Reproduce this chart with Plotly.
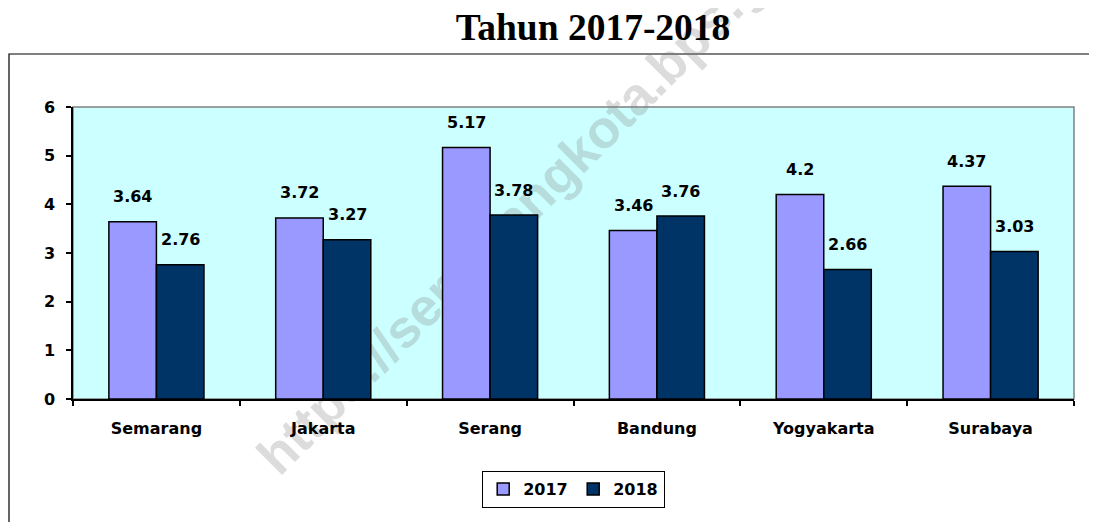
import plotly.graph_objects as go

categories = ["Semarang", "Jakarta", "Serang", "Bandung", "Yogyakarta", "Surabaya"]
values_2017 = [3.64, 3.72, 5.17, 3.46, 4.2, 4.37]
values_2018 = [2.76, 3.27, 3.78, 3.76, 2.66, 3.03]
series_names = ["2017", "2018"]
y_ticks = [0, 1, 2, 3, 4, 5, 6]
title_text = "Tahun 2017-2018"
watermark_text = "https://semarangkota.bps.go.id"

# page body has an 8px margin; lay out in reference pixels minus that offset
OFF = 8
W, H = 1097 - OFF, 522 - OFF
L, T = 73 - OFF, 107 - OFF
PR, PB = 1074 - OFF, 399 - OFF
R, B = W - PR, H - PB
PW = PR - L
PH = PB - T

LBL_FONT = dict(family="DejaVu Sans", size=16, color="black", weight="bold")

fig = go.Figure()
fig.add_trace(go.Bar(x=categories, y=values_2017, name=series_names[0],
                     marker=dict(color="#9999FF", line=dict(color="black", width=1.5))))
fig.add_trace(go.Bar(x=categories, y=values_2018, name=series_names[1],
                     marker=dict(color="#003366", line=dict(color="black", width=1.5))))

bargap = 0.43
bar_px = PW / len(categories) * (1 - bargap) / 2

annotations = []
for vals, sh in ((values_2017, -bar_px / 2), (values_2018, bar_px / 2)):
    for c, v in zip(categories, vals):
        annotations.append(dict(x=c, y=v, xref="x", yref="y", text=f"{v:g}", showarrow=False,
                                xshift=sh, yshift=25, yanchor="middle", font=LBL_FONT))

def px_to_paper_x(px):  # px in reference coordinates
    return (px - OFF - L) / PW

def px_to_paper_y(py):
    return (PB - (py - OFF)) / PH

wm_cx, wm_cy = 541, 183
shapes = [
    dict(type="rect", xref="paper", yref="paper",
         x0=px_to_paper_x(9), x1=px_to_paper_x(1120), y0=px_to_paper_y(540), y1=px_to_paper_y(54),
         line=dict(color="black", width=1.2), fillcolor="rgba(0,0,0,0)", layer="below"),
    dict(type="rect", xref="paper", yref="paper", x0=0, x1=1, y0=0, y1=1,
         line=dict(color="#808080", width=1.5), fillcolor="rgba(0,0,0,0)", layer="below"),
    dict(type="rect", xref="paper", yref="paper",
         x0=px_to_paper_x(wm_cx - 10), x1=px_to_paper_x(wm_cx + 10),
         y0=px_to_paper_y(wm_cy + 10), y1=px_to_paper_y(wm_cy - 10),
         line=dict(width=0), fillcolor="rgba(0,0,0,0)", layer="below",
         label=dict(text=watermark_text, textangle=-45, textposition="middle center",
                    font=dict(family="Liberation Sans", size=53, color="rgba(120,120,120,0.26)",
                              weight="bold"))),
]

fig.update_layout(
    width=W, height=H,
    margin=dict(l=L, r=R, t=T, b=B),
    paper_bgcolor="white",
    plot_bgcolor="#CCFFFF",
    barmode="group",
    bargap=bargap,
    bargroupgap=0,
    title=dict(text=title_text, xref="container", yref="container", x=(593 - OFF) / W,
               xanchor="center", y=1 - 19 / H, yanchor="middle",
               font=dict(family="Liberation Serif", size=37.5, color="black", weight="bold")),
    xaxis=dict(showline=True, linecolor="black", linewidth=1.5, ticks="outside", ticklen=5,
               tickcolor="black", tickwidth=1.5, tickson="boundaries", showgrid=False,
               tickfont=LBL_FONT, ticklabelstandoff=14),
    yaxis=dict(range=[0, 6], tickvals=y_ticks, showline=True, linecolor="black", linewidth=1.5,
               ticks="outside", ticklen=5, tickcolor="black", tickwidth=1.5, showgrid=False,
               zeroline=False, tickfont=LBL_FONT, ticklabelstandoff=8),
    legend=dict(orientation="h", x=0.5, xanchor="center", y=px_to_paper_y(471), yanchor="top",
                bordercolor="black", borderwidth=1.2, font=LBL_FONT, bgcolor="white",
                entrywidth=45, entrywidthmode="pixels", itemwidth=30),
    annotations=annotations,
    shapes=shapes,
)

fig.write_html("out.html")
